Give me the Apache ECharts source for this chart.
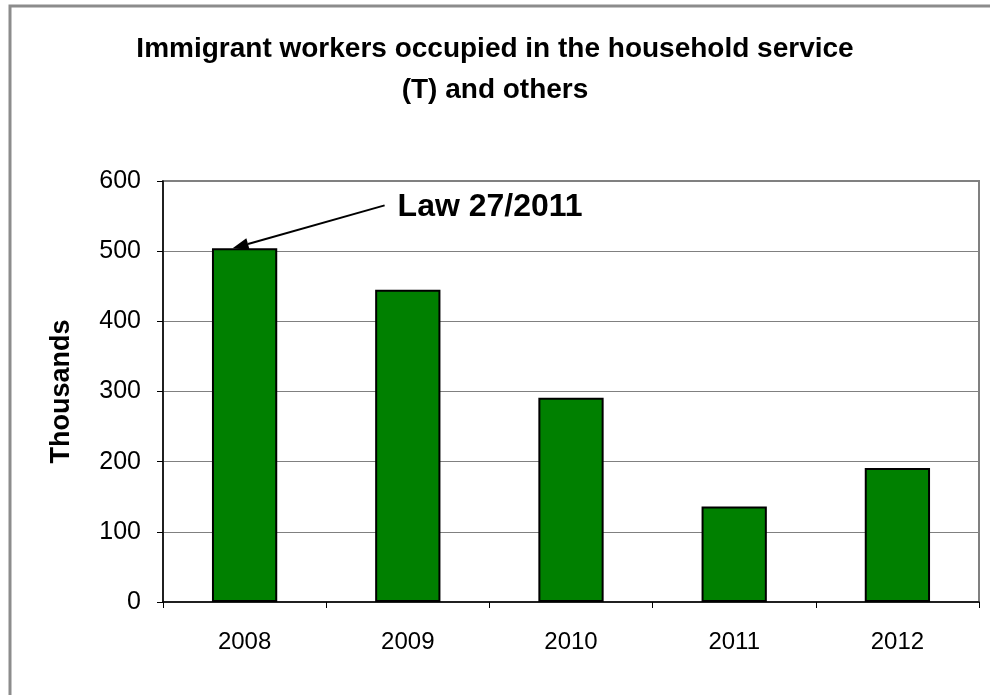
<!DOCTYPE html>
<html>
<head>
<meta charset="utf-8">
<script src="https://cdn.jsdelivr.net/npm/echarts@6/dist/echarts.min.js"></script>
<style>
  html, body { margin: 0; padding: 0; background: #fff; }
  #chart { width: 990px; height: 695px; }
</style>
</head>
<body>
<div id="chart"></div>
<script>
// Immigrant workers in household service, thousands per year
const years = ['2008', '2009', '2010', '2011', '2012'];
const workers = [504, 445, 291, 136, 191];
const yMin = 0;
const yMax = 600;
const yStep = 100;
const titleLines = ['Immigrant workers occupied in the household service', '(T) and others'];
const yName = 'Thousands';
const noteText = 'Law 27/2011';
const noteYear = '2008';

const FONT = 'Arial, "Liberation Sans", sans-serif';
const chart = echarts.init(document.getElementById('chart'), null, { renderer: 'canvas' });

chart.setOption({
  animation: false,
  backgroundColor: '#fff',
  title: {
    text: titleLines.join('\n'),
    left: 'center',
    top: 24,
    textStyle: { fontFamily: FONT, fontSize: 28, fontWeight: 'bold', color: '#000', lineHeight: 41 }
  },
  grid: {
    left: 163, right: 11, top: 181, bottom: 93,
    show: true, borderColor: '#808080', borderWidth: 2, backgroundColor: '#fff'
  },
  xAxis: {
    type: 'category',
    data: years,
    axisLine: { lineStyle: { color: '#000', width: 1.5 } },
    axisTick: { show: true, length: 6, lineStyle: { color: '#000' } },
    axisLabel: { fontFamily: FONT, fontSize: 24, color: '#000', margin: 28 }
  },
  yAxis: {
    type: 'value',
    min: yMin, max: yMax, interval: yStep,
    name: yName,
    nameLocation: 'middle',
    nameGap: 88,
    nameTextStyle: { fontFamily: FONT, fontSize: 27, fontWeight: 'bold', color: '#000' },
    axisLine: { show: true, lineStyle: { color: '#000', width: 1.5 } },
    axisTick: { show: true, length: 6, lineStyle: { color: '#000' } },
    axisLabel: { fontFamily: FONT, fontSize: 25, color: '#000', margin: 22 },
    splitLine: { lineStyle: { color: '#808080', width: 1 } }
  },
  series: [{
    type: 'bar',
    data: workers,
    barWidth: '40%',
    itemStyle: { color: '#008000', borderColor: '#000', borderWidth: 2 }
  }]
});

// Outer chart frame plus the arrow annotation pointing at the first bar
function drawExtras() {
  const idx = years.indexOf(noteYear);
  const tip = chart.convertToPixel({ gridIndex: 0 }, [idx, workers[idx]]);
  const tipX = tip[0] - 12, tipY = tip[1];
  const tailX = tipX + 152, tailY = tipY - 43;
  const dx = tipX - tailX, dy = tipY - tailY;
  const len = Math.sqrt(dx * dx + dy * dy);
  const ux = dx / len, uy = dy / len;
  const headLen = 16, headHalf = 6;
  const bx = tipX - ux * headLen, by = tipY - uy * headLen;
  chart.setOption({
    graphic: [
      {
        type: 'rect', silent: true, z: 100,
        shape: { x: 10, y: 6, width: 1000, height: 720 },
        style: { fill: 'none', stroke: '#8c8c8c', lineWidth: 3 }
      },
      {
        type: 'line', silent: true, z: 100,
        shape: { x1: tailX, y1: tailY, x2: bx, y2: by },
        style: { stroke: '#000', lineWidth: 2 }
      },
      {
        type: 'polygon', silent: true, z: 100,
        shape: { points: [
          [tipX, tipY],
          [bx - uy * headHalf, by + ux * headHalf],
          [bx + uy * headHalf, by - ux * headHalf]
        ] },
        style: { fill: '#000' }
      },
      {
        type: 'text', silent: true, z: 100,
        x: tailX + 13, y: tailY + 2,
        style: {
          text: noteText, fill: '#000',
          font: 'bold 32px ' + FONT,
          textVerticalAlign: 'middle', verticalAlign: 'middle'
        }
      }
    ]
  });
}
drawExtras();
</script>
</body>
</html>
